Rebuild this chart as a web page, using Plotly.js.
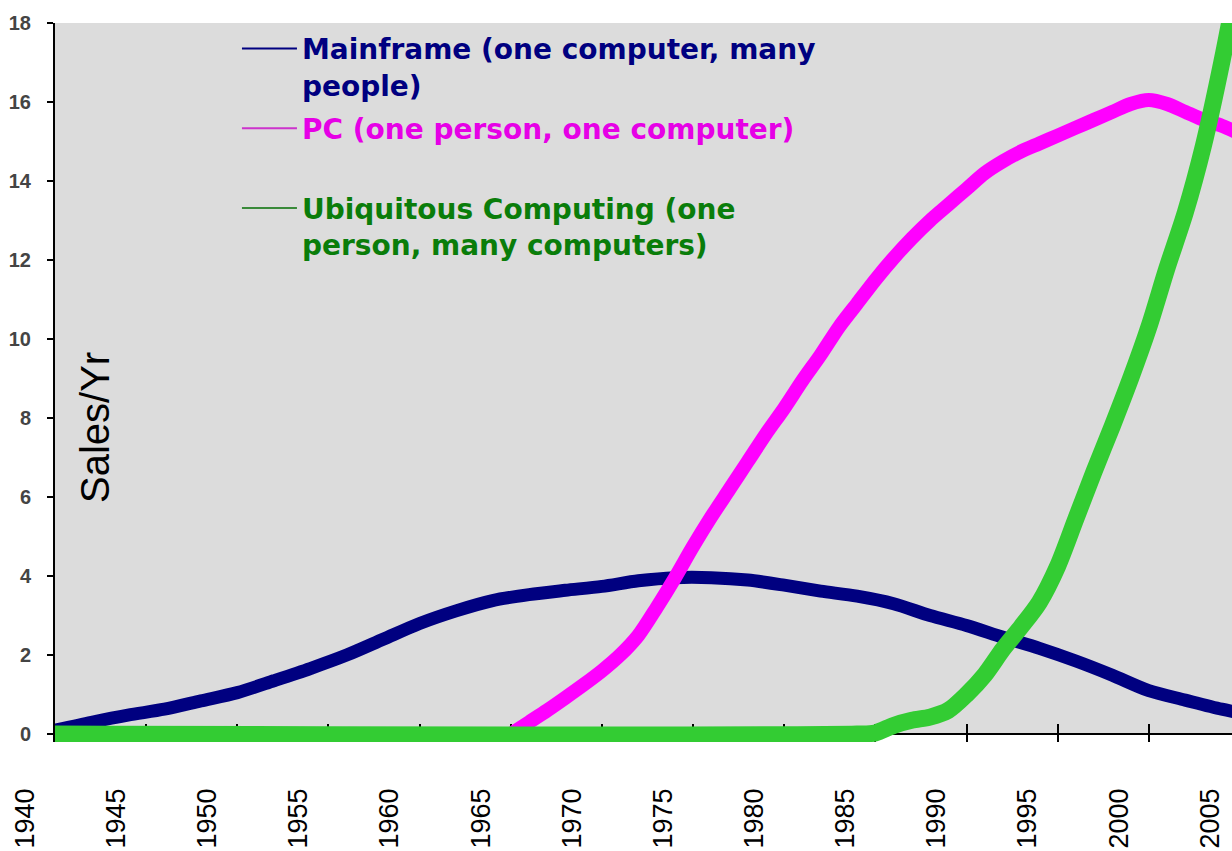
<!DOCTYPE html>
<html>
<head>
<meta charset="utf-8">
<script src="https://cdn.plot.ly/plotly-3.0.1.min.js"></script>
<style>
html, body { margin: 0; padding: 0; overflow: hidden; background: #ffffff; }
#chart { width: 1260px; height: 851px; }
</style>
</head>
<body>
<div id="chart"></div>
<script>
// ---- data ----
const seriesNames = [
  "Mainframe (one computer, many|people)",
  "PC (one person, one computer)| ",
  "Ubiquitous Computing (one|person, many computers)"
];

const mainframeYears = [1940, 1942, 1944, 1946, 1948, 1950, 1952, 1954, 1956, 1958, 1960, 1962, 1964, 1966, 1968, 1970, 1972, 1974, 1976, 1978, 1980, 1982, 1984, 1986, 1988, 1990, 1992, 1994, 1996, 1998, 2000, 2002, 2004, 2006];
const mainframeSales = [0.1, 0.3, 0.48, 0.63, 0.84, 1.05, 1.35, 1.66, 2.0, 2.4, 2.8, 3.12, 3.38, 3.53, 3.64, 3.74, 3.88, 3.96, 3.96, 3.9, 3.77, 3.62, 3.49, 3.3, 3.0, 2.75, 2.45, 2.17, 1.85, 1.49, 1.1, 0.86, 0.63, 0.45];

const pcYears = [1965, 1966, 1967, 1968, 1969, 1970, 1971, 1972, 1973, 1974, 1975, 1976, 1977, 1978, 1979, 1980, 1981, 1982, 1983, 1984, 1985, 1986, 1987, 1988, 1989, 1990, 1991, 1992, 1993, 1994, 1995, 1996, 1997, 1998, 1999, 2000, 2001, 2002, 2003, 2004, 2005, 2006];
const pcSales = [0.0, 0.3, 0.6, 0.92, 1.25, 1.6, 2.0, 2.5, 3.2, 3.95, 4.75, 5.5, 6.2, 6.9, 7.6, 8.25, 8.95, 9.6, 10.3, 10.9, 11.5, 12.05, 12.55, 13.0, 13.4, 13.8, 14.2, 14.5, 14.75, 14.95, 15.15, 15.35, 15.55, 15.75, 15.95, 16.05, 15.95, 15.75, 15.55, 15.4, 15.2, 15.0];

const ubiquitousYears = [1940, 1984, 1985, 1986, 1987, 1988, 1989, 1990, 1991, 1992, 1993, 1994, 1995, 1996, 1997, 1998, 1999, 2000, 2001, 2002, 2003, 2004, 2005, 2006];
const ubiquitousSales = [0, 0, 0.03, 0.22, 0.35, 0.43, 0.6, 1.0, 1.5, 2.15, 2.72, 3.34, 4.25, 5.45, 6.65, 7.8, 9.0, 10.3, 11.8, 13.2, 14.9, 17.0, 19.4, 22.0];

const xTickYears = [1940, 1945, 1950, 1955, 1960, 1965, 1970, 1975, 1980, 1985, 1990, 1995, 2000, 2005];
const yTickValues = [0, 2, 4, 6, 8, 10, 12, 14, 16, 18];
const yAxisTitle = "Sales/Yr";

// ---- styles ----
const lineColors = ["#000080", "#ff00ff", "#33cc33"];
const lineWidths = [13, 14, 17];
const legendTextColors = ["#000080", "#e600e6", "#0a7d0a"];
const legendLineColors = ["#000080", "#cc33cc", "#3a8a3a"];

const xRange = [1940, 2006.1];
const yRange = [-0.2, 18];

function legendLabel(name, color) {
  return name.split("|").map(function (part) {
    return '<span style="color:' + color + '">' + part + '</span>';
  }).join("<br>");
}

const dataX = [mainframeYears, pcYears, ubiquitousYears];
const dataY = [mainframeSales, pcSales, ubiquitousSales];

const traces = [];
for (let i = 0; i < 3; i++) {
  traces.push({
    type: "scatter",
    mode: "lines",
    x: dataX[i],
    y: dataY[i],
    line: { color: lineColors[i], width: lineWidths[i], shape: "spline", smoothing: 0.8 },
    showlegend: false,
    hoverinfo: "skip"
  });
}
for (let i = 0; i < 3; i++) {
  traces.push({
    type: "scatter",
    mode: "lines",
    x: [null],
    y: [null],
    name: legendLabel(seriesNames[i], legendTextColors[i]),
    legendgroup: "g" + i,
    line: { color: legendLineColors[i], width: 2 },
    showlegend: true,
    hoverinfo: "skip"
  });
}

const layout = {
  width: 1260,
  height: 851,
  margin: { l: 55, r: 0, t: 23, b: 109, pad: 0 },
  paper_bgcolor: "#ffffff",
  plot_bgcolor: "#ffffff",
  showlegend: true,
  legend: {
    x: 0.151,
    xanchor: "left",
    y: 0.999,
    yanchor: "top",
    bgcolor: "rgba(0,0,0,0)",
    borderwidth: 0,
    itemwidth: 55,
    valign: "top",
    traceorder: "grouped",
    tracegroupgap: 4,
    font: { family: "DejaVu Sans", size: 28, weight: "bold", color: "#000080" }
  },
  xaxis: {
    range: xRange,
    tickmode: "array",
    tickvals: xTickYears,
    ticktext: xTickYears.map(String),
    tickangle: -90,
    ticks: "inside",
    ticklen: 18,
    tickwidth: 2,
    tickcolor: "#000000",
    ticklabelshift: -30,
    ticklabelstandoff: 40,
    showline: false,
    showgrid: false,
    zeroline: false,
    layer: "below traces",
    tickfont: { family: "Liberation Sans", size: 27, color: "#000000" },
    fixedrange: true
  },
  xaxis2: {
    overlaying: "x",
    anchor: "y",
    side: "top",
    range: xRange,
    showline: true,
    linecolor: "#808080",
    linewidth: 3,
    ticks: "",
    showticklabels: false,
    showgrid: false,
    zeroline: false
  },
  yaxis: {
    range: yRange,
    tickmode: "array",
    tickvals: yTickValues,
    ticktext: yTickValues.map(String),
    ticks: "outside",
    ticklen: 6,
    tickwidth: 2,
    tickcolor: "#000000",
    ticklabelstandoff: 12,
    showline: true,
    linecolor: "#000000",
    linewidth: 2,
    showgrid: false,
    zeroline: true,
    zerolinecolor: "#000000",
    zerolinewidth: 2,
    layer: "below traces",
    tickfont: { family: "Liberation Sans", size: 20, weight: "bold", color: "#444444" },
    fixedrange: true
  },
  yaxis2: {
    overlaying: "y",
    anchor: "x",
    side: "left",
    range: yRange,
    tickmode: "array",
    tickvals: yTickValues,
    ticks: "inside",
    ticklen: 10,
    tickwidth: 2,
    tickcolor: "#000000",
    showticklabels: false,
    showline: false,
    showgrid: false,
    zeroline: false,
    layer: "below traces"
  },
  shapes: [{
    type: "rect",
    layer: "below",
    xref: "paper",
    yref: "y",
    x0: 0, x1: 1,
    y0: 0, y1: yRange[1],
    fillcolor: "#dcdcdc",
    line: { width: 0 }
  }],
  annotations: [{
    text: yAxisTitle,
    xref: "paper",
    yref: "paper",
    x: 0.0332,
    y: 0.4367,
    xanchor: "center",
    yanchor: "middle",
    textangle: -90,
    showarrow: false,
    font: { family: "Liberation Sans", size: 40, color: "#000000" }
  }]
};

Plotly.newPlot("chart", traces, layout, { displayModeBar: false, staticPlot: true });
</script>
</body>
</html>
